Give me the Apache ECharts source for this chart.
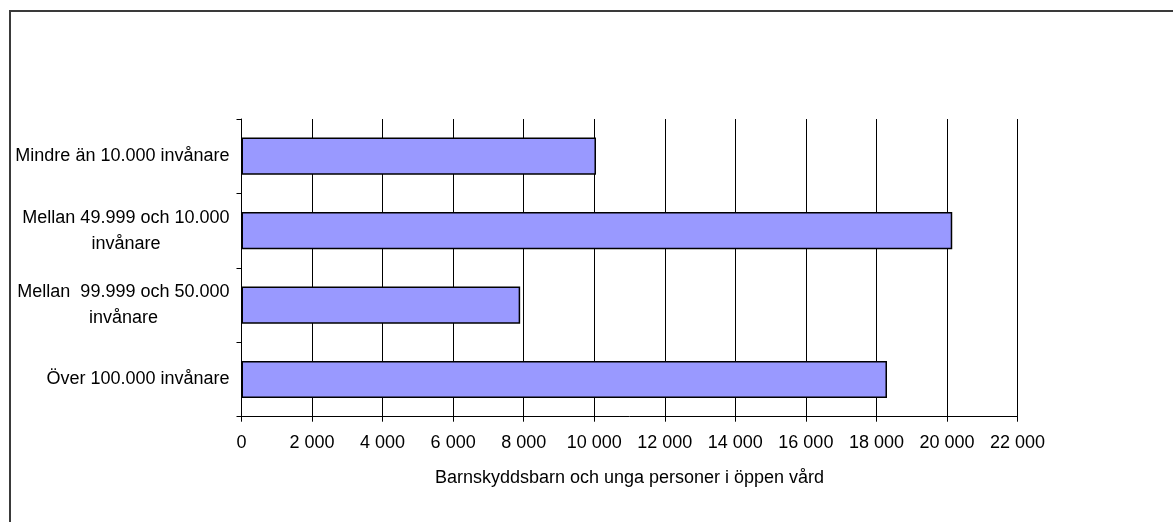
<!DOCTYPE html>
<html>
<head>
<meta charset="utf-8">
<script src="https://cdn.jsdelivr.net/npm/echarts@6/dist/echarts.min.js"></script>
<style>
  html, body { margin: 0; padding: 0; background: #fff; }
  #main { width: 1173px; height: 522px; }
</style>
</head>
<body>
<div id="main"></div>
<script>
// kategorier uppifrån och ned
var categories = [
  "Mindre än 10.000 invånare",
  "Mellan 49.999 och 10.000\ninvånare",
  "Mellan  99.999 och 50.000\ninvånare",
  "Över 100.000 invånare"
];
var values = [10050, 20150, 7900, 18300];
var xTicks = { min: 0, max: 22000, step: 2000 };
var xName = "Barnskyddsbarn och unga personer i öppen vård";

var chartDom = document.getElementById("main");
var myChart = echarts.init(chartDom);

function fmt(v) {
  return String(v).replace(/\B(?=(\d{3})+(?!\d))/g, " ");
}

var font = "'Liberation Sans', Arial, sans-serif";

var option = {
  animation: false,
  backgroundColor: "#fff",
  textStyle: { fontFamily: font },
  graphic: [
    {
      type: "rect",
      shape: { x: 10, y: 11, width: 1400, height: 800 },
      style: { fill: "none", stroke: "#3a3a3a", lineWidth: 2 },
      silent: true
    }
  ],
  grid: { left: 241.5, right: 155.5, top: 119, bottom: 105.3 },
  xAxis: {
    type: "value",
    min: xTicks.min,
    max: xTicks.max,
    interval: xTicks.step,
    name: xName,
    nameLocation: "middle",
    nameGap: 52,
    nameTextStyle: { color: "#000", fontSize: 18, fontFamily: font },
    axisLine: { show: true, lineStyle: { color: "#000", width: 1 } },
    axisTick: { show: true, length: 5, lineStyle: { color: "#000" } },
    axisLabel: {
      color: "#000",
      fontSize: 18,
      fontFamily: font,
      margin: 17,
      formatter: fmt
    },
    splitLine: { show: true, lineStyle: { color: "#000", width: 1 } }
  },
  yAxis: {
    type: "category",
    inverse: true,
    data: categories,
    axisLine: { show: true, lineStyle: { color: "#000", width: 1 } },
    axisTick: { show: true, length: 5, lineStyle: { color: "#000" } },
    axisLabel: {
      color: "#000",
      fontSize: 18,
      fontFamily: font,
      margin: 12,
      align: "right",
      formatter: function (v) {
        return v.split("\n").map(function (s) { return "{c|" + s + "}"; }).join("\n");
      },
      rich: {
        c: { align: "center", fontSize: 18, lineHeight: 26, color: "#000", fontFamily: font }
      }
    },
    splitLine: { show: false }
  },
  series: [
    {
      type: "bar",
      data: values,
      barCategoryGap: "50%",
      itemStyle: { color: "#9999ff", borderColor: "#000", borderWidth: 1.5 }
    }
  ]
};

option && myChart.setOption(option);
</script>
</body>
</html>
